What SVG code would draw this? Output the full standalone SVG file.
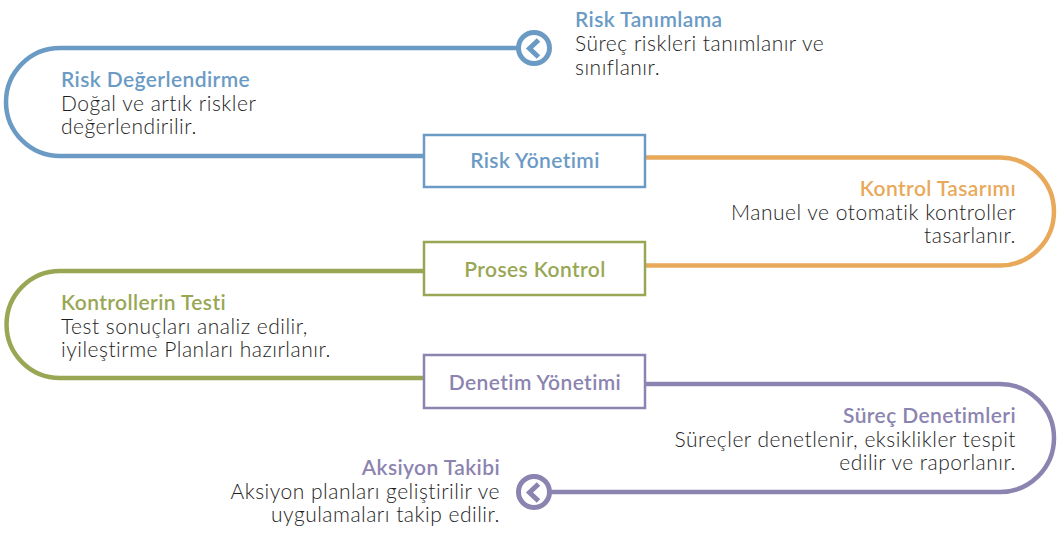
<svg xmlns="http://www.w3.org/2000/svg" width="1057" height="560" viewBox="0 0 1057 560">
<style>
  .t { font-family: Lato, "Open Sans", "Liberation Sans", sans-serif; font-size: 21px; font-weight: 600; letter-spacing: 0.4px; }
  .b { font-family: Lato, "Open Sans", "Liberation Sans", sans-serif; font-size: 21px; font-weight: 300; letter-spacing: 0.5px; fill: #1e1e1e; }
  .lbl { font-family: Lato, "Open Sans", "Liberation Sans", sans-serif; font-size: 21px; font-weight: 600; letter-spacing: 0.4px; text-anchor: middle; }
  .r { text-anchor: end; }
  .line { fill: none; stroke-width: 4.5; }
  .box { fill: #ffffff; stroke-width: 2.5; }
  .blue { fill: #6b9bc5; } .blueS { stroke: #6b9bc5; }
  .orange { fill: #e8a95b; } .orangeS { stroke: #e8a95b; }
  .green { fill: #99a755; } .greenS { stroke: #99a755; }
  .purple { fill: #8c84b0; } .purpleS { stroke: #8c84b0; }
</style>
<rect width="1057" height="560" fill="#ffffff"/>
<g id="connectors">
  <path class="line blueS" d="M 518 48 H 60 A 54 54 0 0 0 60 156 H 424"/>
  <path class="line orangeS" d="M 645 157.5 H 1000 A 54 54 0 0 1 1000 265.5 H 645"/>
  <path class="line greenS" d="M 424 271 H 60 A 53.5 53.5 0 0 0 60 378 H 424"/>
  <path class="line purpleS" d="M 645 384 H 1000 A 54 54 0 0 1 1000 492 H 550"/>
</g>
<g id="start-marker">
  <circle cx="534" cy="48" r="15.5" fill="#ffffff" stroke="#6b9bc5" stroke-width="5"/>
  <polyline points="538.5,40 529.5,48.5 538.5,57" fill="none" stroke="#6b9bc5" stroke-width="5"/>
</g>
<g id="end-marker">
  <circle cx="534" cy="492" r="15.5" fill="#ffffff" stroke="#8c84b0" stroke-width="5"/>
  <polyline points="538.5,484 529.5,492.5 538.5,501" fill="none" stroke="#8c84b0" stroke-width="5"/>
</g>
<g id="risk-tanimlama">
  <text class="t blue" x="575" y="27">Risk Tanımlama</text>
  <text class="b" x="575" y="51">Süreç riskleri tanımlanır ve</text>
  <text class="b" x="575" y="75">sınıflanır.</text>
</g>
<g id="risk-degerlendirme">
  <text class="t blue" x="61" y="87">Risk Değerlendirme</text>
  <text class="b" x="61" y="111">Doğal ve artık riskler</text>
  <text class="b" x="61" y="134">değerlendirilir.</text>
</g>
<g id="risk-yonetimi">
  <rect class="box blueS" x="424" y="135" width="221" height="52"/>
  <text class="lbl blue" x="535" y="168">Risk Yönetimi</text>
</g>
<g id="kontrol-tasarimi">
  <text class="t orange r" x="1016" y="196">Kontrol Tasarımı</text>
  <text class="b r" x="1016" y="220">Manuel ve otomatik kontroller</text>
  <text class="b r" x="1016" y="243">tasarlanır.</text>
</g>
<g id="proses-kontrol">
  <rect class="box greenS" x="424" y="242" width="221" height="53"/>
  <text class="lbl green" x="535" y="277">Proses Kontrol</text>
</g>
<g id="kontrollerin-testi">
  <text class="t green" x="61" y="310">Kontrollerin Testi</text>
  <text class="b" x="61" y="334">Test sonuçları analiz edilir,</text>
  <text class="b" x="61" y="357">iyileştirme Planları hazırlanır.</text>
</g>
<g id="denetim-yonetimi">
  <rect class="box purpleS" x="424" y="355" width="221" height="53"/>
  <text class="lbl purple" x="535" y="390">Denetim Yönetimi</text>
</g>
<g id="surec-denetimleri">
  <text class="t purple r" x="1016" y="423">Süreç Denetimleri</text>
  <text class="b r" x="1016" y="447">Süreçler denetlenir, eksiklikler tespit</text>
  <text class="b r" x="1016" y="470">edilir ve raporlanır.</text>
</g>
<g id="aksiyon-takibi">
  <text class="t purple r" x="500" y="475">Aksiyon Takibi</text>
  <text class="b r" x="500" y="499">Aksiyon planları geliştirilir ve</text>
  <text class="b r" x="500" y="522">uygulamaları takip edilir.</text>
</g>
</svg>
